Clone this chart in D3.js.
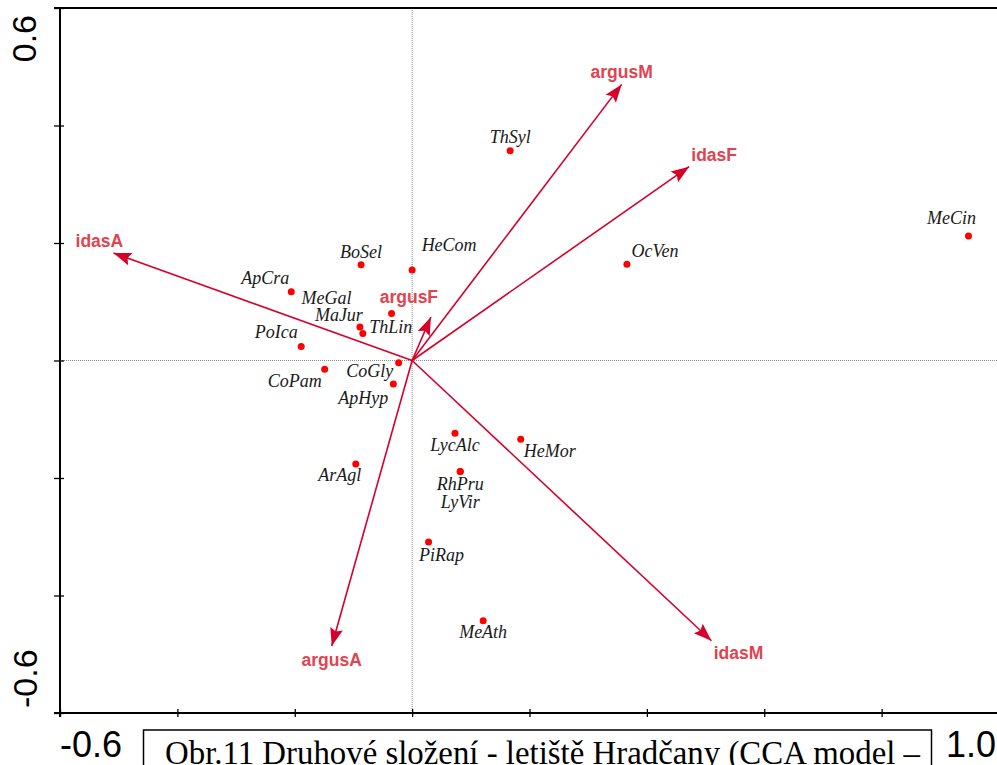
<!DOCTYPE html>
<html>
<head>
<meta charset="utf-8">
<script src="https://cdn.jsdelivr.net/npm/d3@7"></script>
<style>
  html, body { margin: 0; padding: 0; background: #fff; }
  svg { display: block; }
</style>
</head>
<body>
<svg id="chart" width="997" height="765"></svg>
<script>
// CCA biplot: species scores (points) and environmental/response variables (arrows)
const speciesNames = ["ThSyl","MeCin","OcVen","HeCom","BoSel","ApCra","MeGal","MaJur","ThLin","PoIca",
                      "CoPam","CoGly","ApHyp","LycAlc","HeMor","ArAgl","RhPru","LyVir","PiRap","MeAth"];
const speciesAx1 = [0.167, 0.948, 0.366, 0.000, -0.087, -0.206, -0.035, -0.089, -0.084, -0.189,
                    -0.149, -0.023, -0.032, 0.073, 0.185, -0.096, 0.082, 0.082, 0.028, 0.121];
const speciesAx2 = [0.357, 0.212, 0.164, 0.154, 0.163, 0.117, 0.080, 0.057, 0.046, 0.024,
                    -0.015, -0.004, -0.040, -0.124, -0.134, -0.176, -0.189, -0.189, -0.309, -0.443];

const arrowNames = ["idasA","argusF","argusM","idasF","argusA","idasM"];
const arrowAx1 = [-0.509, 0.032, 0.357, 0.472, -0.137, 0.510];
const arrowAx2 = [0.183, 0.074, 0.470, 0.330, -0.486, -0.477];

const xTicks = [-0.6, -0.4, -0.2, 0.0, 0.2, 0.4, 0.6, 0.8, 1.0];
const yTicks = [-0.6, -0.4, -0.2, 0.0, 0.2, 0.4, 0.6];
const xTickLabels = ["-0.6", "1.0"];
const yTickLabels = ["0.6", "-0.6"];
const caption = "Obr.11 Druhové složení - letiště Hradčany (CCA model –";

// label placement (pixel nudges from each mark)
const speciesLabelNudge = [[0,-8],[-17,-12],[28,-7],[37,-19],[0,-7],[-26,-8],[-65,-10],[-21,-6],[28,0],[-25,-8],
                           [-30,18],[-29,14],[-30,20],[0,18],[29,18],[-16,17],[0,18],[0,36],[13,19],[0,17]];
const arrowLabelNudge = [[-14,-12],[-22,-20],[0,-12],[25,-12],[0,14],[27,12]];

const svg = d3.select("#chart");
const L = 60, R = 999, T = 8, B = 713;
const x = d3.scaleLinear().domain([-0.6, 1.0]).range([L, R]);
const y = d3.scaleLinear().domain([-0.6, 0.6]).range([B, T]);

const species = speciesNames.map((n, i) => ({ name: n, a1: speciesAx1[i], a2: speciesAx2[i], nudge: speciesLabelNudge[i] }));
const arrows = arrowNames.map((n, i) => ({ name: n, a1: arrowAx1[i], a2: arrowAx2[i], nudge: arrowLabelNudge[i] }));

// zero lines (dotted)
svg.append("line").attr("x1", x(0)).attr("x2", x(0)).attr("y1", T).attr("y2", B)
  .attr("stroke", "#888").attr("stroke-width", 1).attr("stroke-dasharray", "1,1");
svg.append("line").attr("x1", L).attr("x2", R).attr("y1", y(0)).attr("y2", y(0))
  .attr("stroke", "#888").attr("stroke-width", 1).attr("stroke-dasharray", "1,1");

// frame
svg.append("line").attr("x1", L - 6).attr("x2", R).attr("y1", T).attr("y2", T)
  .attr("stroke", "#000").attr("stroke-width", 2);
svg.append("line").attr("x1", R).attr("x2", R).attr("y1", T).attr("y2", B)
  .attr("stroke", "#000").attr("stroke-width", 2);

// axes with ticks crossing the axis line
const xAxis = d3.axisBottom(x).tickValues(xTicks).tickFormat("").tickSize(4).tickSizeOuter(0);
const gx = svg.append("g").attr("transform", `translate(0,${B})`).call(xAxis);
gx.select(".domain").attr("d", `M${L - 6},0H${R}`).attr("stroke-width", 2);
gx.selectAll(".tick line").attr("y1", -4).attr("stroke-width", 1.3);

const yAxis = d3.axisLeft(y).tickValues(yTicks).tickFormat("").tickSize(6).tickSizeOuter(0);
const gy = svg.append("g").attr("transform", `translate(${L},0)`).call(yAxis);
gy.select(".domain").attr("d", `M0,${T}V${B + 4}`).attr("stroke-width", 2);
gy.selectAll(".tick line").attr("x2", -6).attr("x1", 4).attr("stroke-width", 1.3);

// axis end labels
const tickFont = "'Liberation Sans', Arial, sans-serif";
svg.append("text").attr("x", x(-0.6)).attr("y", 757).attr("text-anchor", "start")
  .attr("font-family", tickFont).attr("font-size", 36).text(xTickLabels[0]);
svg.append("text").attr("x", x(1.0) - 3).attr("y", 757).attr("text-anchor", "end")
  .attr("font-family", tickFont).attr("font-size", 36).text(xTickLabels[1]);
svg.append("text").attr("transform", `translate(36,${y(0.6) + 7}) rotate(-90)`).attr("text-anchor", "end")
  .attr("font-family", tickFont).attr("font-size", 34).text(yTickLabels[0]);
svg.append("text").attr("transform", `translate(37,${y(-0.6) - 5}) rotate(-90)`).attr("text-anchor", "start")
  .attr("font-family", tickFont).attr("font-size", 34).text(yTickLabels[1]);

// arrows
const arrowColor = "#d6002b";
const ag = svg.append("g");
ag.selectAll("line").data(arrows).join("line")
  .attr("x1", x(0)).attr("y1", y(0))
  .attr("x2", d => x(d.a1)).attr("y2", d => y(d.a2))
  .attr("stroke", arrowColor).attr("stroke-width", 1.6);
ag.selectAll("path").data(arrows).join("path")
  .attr("d", "M0,0L-18,-6.5L-15,0L-18,6.5Z")
  .attr("fill", arrowColor)
  .attr("transform", d => {
    const px = x(d.a1), py = y(d.a2);
    const ang = Math.atan2(py - y(0), px - x(0)) * 180 / Math.PI;
    return `translate(${px},${py}) rotate(${ang})`;
  });
ag.selectAll("text").data(arrows).join("text")
  .attr("x", d => x(d.a1) + d.nudge[0]).attr("y", d => y(d.a2) + d.nudge[1])
  .attr("text-anchor", "middle").attr("dominant-baseline", "central")
  .attr("font-family", tickFont).attr("font-weight", "bold").attr("font-size", 17.5)
  .attr("fill", "#e2434f").text(d => d.name);

// species points
const sg = svg.append("g");
sg.selectAll("circle").data(species).join("circle")
  .attr("cx", d => x(d.a1)).attr("cy", d => y(d.a2)).attr("r", 3.5)
  .attr("fill", "#ff0000");
sg.selectAll("text").data(species).join("text")
  .attr("x", d => x(d.a1) + d.nudge[0]).attr("y", d => y(d.a2) + d.nudge[1])
  .attr("text-anchor", "middle")
  .attr("font-family", "'Liberation Serif', 'Times New Roman', serif").attr("font-style", "italic")
  .attr("font-size", 18).attr("fill", "#1a1a1a").text(d => d.name);

// caption box
svg.append("rect").attr("x", 143.5).attr("y", 730).attr("width", 788).attr("height", 80)
  .attr("fill", "none").attr("stroke", "#000").attr("stroke-width", 1.5);
svg.append("text").attr("x", 165).attr("y", 764)
  .attr("font-family", "'Liberation Serif', 'Times New Roman', serif").attr("font-size", 33)
  .attr("textLength", 755).attr("lengthAdjust", "spacingAndGlyphs")
  .attr("fill", "#000").text(caption);
</script>
</body>
</html>
